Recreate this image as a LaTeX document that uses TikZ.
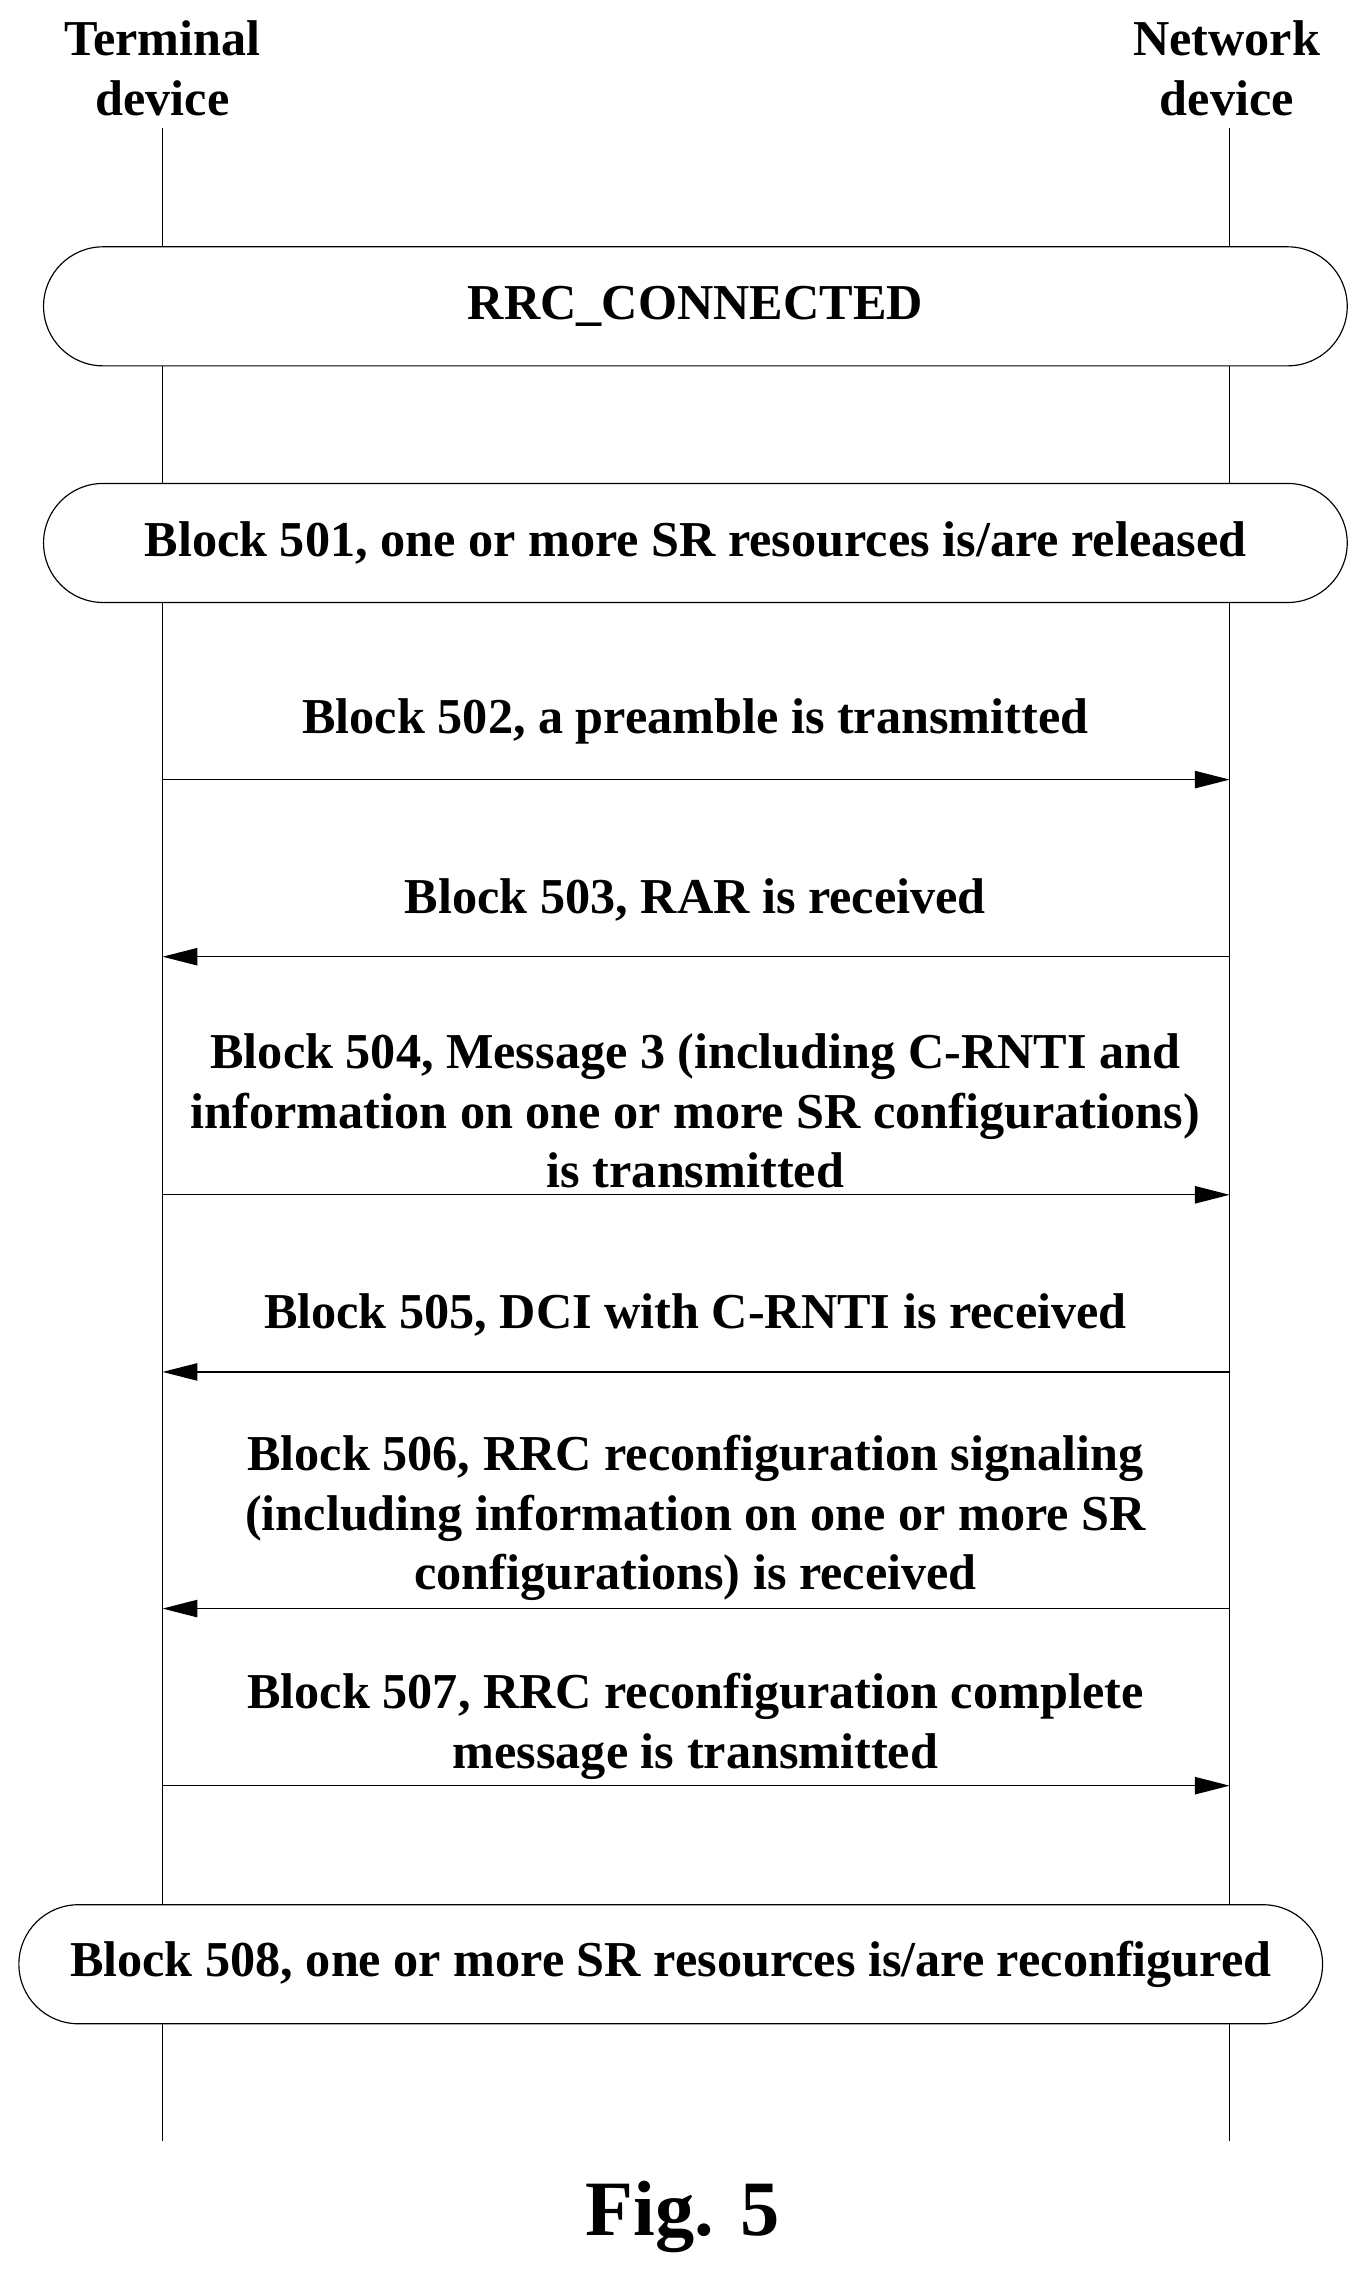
\documentclass[tikz,border=0pt]{standalone}
\usepackage{fontspec}
\setmainfont{Liberation Serif}
\usetikzlibrary{arrows.meta,positioning}

\begin{document}
\begin{tikzpicture}[x=0.5pt,y=-0.5pt,>={Triangle[length=12pt,width=6pt]},
                    font=\bfseries\fontsize{17.3}{20.5}\selectfont]
  \tikzstyle{state bar}=[draw=black,thin,fill=white,rounded corners=20.5pt,
                         minimum height=41pt,inner sep=0pt]
  \tikzstyle{msg}=[->,thin]
  \tikzstyle{lbl}=[align=center,anchor=south,inner sep=0pt]
  \useasboundingbox (0,0) rectangle (940,1565);

  \node[align=center] (Term) at (112,47) {Terminal\\device};
  \node[align=center] (Net)  at (845,47) {Network\\device};
  \coordinate (TermEnd) at (112,1475);
  \coordinate (NetEnd)  at (847,1475);
  \draw[thin] (112,88) -- (TermEnd);
  \draw[thin] (847,88) -- (NetEnd);

  \node[state bar,minimum width=449pt] (Conn)  at (479,211)  {RRC\_CONNECTED};
  \node[state bar,minimum width=449pt] (Rel)   at (479,374)  {Block 501, one or more SR resources is/are released};
  \node[state bar,minimum width=449pt] (Recfg) at (462,1353) {Block 508, one or more SR resources is/are reconfigured};

  % messages
  \foreach \y [count=\i] in {537,659,823,945,1108,1230} {
    \coordinate (T\i) at (112,\y);
    \coordinate (N\i) at (847,\y);
  }
  \draw[msg] (T1) -- (N1);
  \draw[msg] (N2) -- (T2);
  \draw[msg] (T3) -- (N3);
  \draw[msg] (N4) -- (T4);
  \draw[msg] (N5) -- (T5);
  \draw[msg] (T6) -- (N6);

  \node[lbl] (M502) at (479,513)  {Block 502, a preamble is transmitted};
  \node[lbl] (M503) at (479,635)  {Block 503, RAR is received};
  \node[lbl] (M504) at (479,819)  {Block 504, Message 3 (including C-RNTI and\\information on one or more SR configurations)\\is transmitted};
  \node[lbl] (M505) at (479,921)  {Block 505, DCI with C-RNTI is received};
  \node[lbl] (M506) at (479,1103) {Block 506, RRC reconfiguration signaling\\(including information on one or more SR\\configurations) is received};
  \node[lbl] (M507) at (479,1226) {Block 507, RRC reconfiguration complete\\message is transmitted};

  \node[font=\bfseries\fontsize{27}{32}\selectfont] (Fig) at (470,1527) {Fig. 5};
\end{tikzpicture}
\end{document}
